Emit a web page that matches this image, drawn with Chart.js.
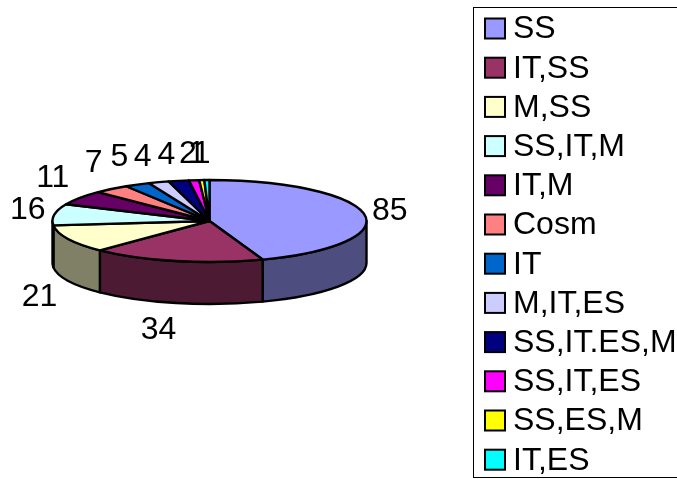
<!DOCTYPE html>
<html>
<head>
<meta charset="utf-8">
<title>Pie</title>
<style>
  html, body { margin: 0; padding: 0; background: #fff; overflow: hidden; }
  #box { width: 677px; height: 479px; }
</style>
<script src="https://cdn.jsdelivr.net/npm/chart.js@4"></script>
</head>
<body>
<div id="box"><canvas id="pie" width="677" height="479"></canvas></div>
<script>
const categories = ['SS', 'IT,SS', 'M,SS', 'SS,IT,M', 'IT,M', 'Cosm', 'IT', 'M,IT,ES', 'SS,IT.ES,M', 'SS,IT,ES', 'SS,ES,M', 'IT,ES'];
const counts = [85, 34, 21, 16, 11, 7, 5, 4, 4, 2, 1, 1];
const sliceColors = ['#9999FF', '#993366', '#FFFFCC', '#CCFFFF', '#660066', '#FF8080', '#0066CC', '#CCCCFF', '#000080', '#FF00FF', '#FFFF00', '#00FFFF'];
const wallColors = ['#4D4D80', '#4D1A33', '#808066', '#668080', '#330033', '#804040', '#003366', '#666680', '#000040', '#800080', '#808000', '#008080'];

const FONT = '32px "Liberation Sans", Arial, sans-serif';
const RX = 157, RY = 41, DEPTH = 42;
// nudges for the value labels, Excel does not place them quite radially
const labelNudge = [[4, 0], [-13, 10], [-9, 8], [-5, -2], [-9, -9], [-4, -12], [-8, -11], [-9, -8], [-8, -8], [-4, -8], [-4, -8], [-5, -8]];

// tilted pie: takes the angles the pie controller worked out and draws them flattened
const tiltedPie = {
  id: 'tiltedPie',
  beforeDatasetsDraw(chart) {
    const ctx = chart.ctx;
    const arcs = chart.getDatasetMeta(0).data;
    ctx.save();
    ctx.lineJoin = 'round';
    ctx.lineWidth = 2.4;
    ctx.strokeStyle = '#000';

    // side walls, only the front half shows
    arcs.forEach((arc, i) => {
      const a0 = Math.max(arc.startAngle, 0);
      const a1 = Math.min(arc.endAngle, Math.PI);
      if (a1 <= a0) return;
      ctx.beginPath();
      ctx.ellipse(arc.x, arc.y, RX, RY, 0, a0, a1);
      ctx.ellipse(arc.x, arc.y + DEPTH, RX, RY, 0, a1, a0, true);
      ctx.closePath();
      ctx.fillStyle = wallColors[i];
      ctx.fill();
      ctx.stroke();
    });

    // top faces
    arcs.forEach((arc, i) => {
      ctx.beginPath();
      ctx.moveTo(arc.x, arc.y);
      ctx.ellipse(arc.x, arc.y, RX, RY, 0, arc.startAngle, arc.endAngle);
      ctx.closePath();
      ctx.fillStyle = sliceColors[i];
      ctx.fill();
      ctx.stroke();
    });

    // value labels
    ctx.font = FONT;
    ctx.fillStyle = '#000';
    ctx.textAlign = 'center';
    ctx.textBaseline = 'middle';
    arcs.forEach((arc, i) => {
      const mid = (arc.startAngle + arc.endAngle) / 2;
      const s = Math.sin(mid);
      const x = arc.x + (RX + 22) * Math.cos(mid) + labelNudge[i][0];
      const y = arc.y + (RY + 18) * s + (s > 0 ? DEPTH : 0) + labelNudge[i][1];
      ctx.fillText(String(counts[i]), x, y);
    });
    ctx.restore();
    return false;
  }
};

// Excel style legend in a box, running off the right edge
const boxLegend = {
  id: 'boxLegend',
  afterDraw(chart) {
    const ctx = chart.ctx;
    ctx.save();
    ctx.strokeStyle = '#000';
    ctx.lineWidth = 1;
    ctx.strokeRect(473.5, 7.5, 220, 470);
    ctx.font = FONT;
    ctx.textBaseline = 'middle';
    ctx.textAlign = 'left';
    chart.data.labels.forEach((name, i) => {
      const y = 28.5 + i * 39.2;
      ctx.fillStyle = sliceColors[i];
      ctx.lineWidth = 2;
      ctx.fillRect(485, y - 10, 20, 20);
      ctx.strokeRect(485, y - 10, 20, 20);
      ctx.fillStyle = '#000';
      ctx.fillText(name, 513, y + 1);
    });
    ctx.restore();
  }
};

new Chart(document.getElementById('pie').getContext('2d'), {
  type: 'pie',
  data: {
    labels: categories,
    datasets: [{
      data: counts,
      backgroundColor: sliceColors
    }]
  },
  options: {
    responsive: false,
    animation: false,
    layout: { padding: { right: 258, bottom: 37 } },
    plugins: {
      legend: { display: false },
      tooltip: { enabled: false }
    }
  },
  plugins: [tiltedPie, boxLegend]
});
</script>
</body>
</html>
